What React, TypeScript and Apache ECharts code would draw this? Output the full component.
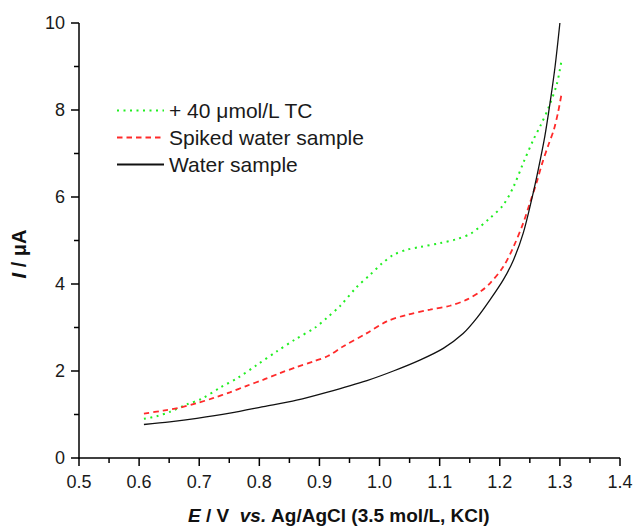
import React, { useEffect, useRef } from "react";
import * as echarts from "echarts";

const seriesNames = ["+ 40 μmol/L TC", "Spiked water sample", "Water sample"];
const xTitle = "{i|E} / V  {i|vs.} Ag/AgCl (3.5 mol/L, KCl)";
const yTitle = "{i|I} / μA";

const xMajorTicks = [0.5, 0.6, 0.7, 0.8, 0.9, 1.0, 1.1, 1.2, 1.3, 1.4];
const xMinorTicks = [0.55, 0.65, 0.75, 0.85, 0.95, 1.05, 1.15, 1.25, 1.35];
const yMajorTicks = [0, 2, 4, 6, 8, 10];
const yMinorTicks = [1, 3, 5, 7, 9];

const tcE = [0.608, 0.629, 0.651, 0.679, 0.704, 0.735, 0.765, 0.796, 0.829, 0.859, 0.893, 0.913, 0.934, 0.962, 0.984, 1.004, 1.023, 1.046, 1.067, 1.101, 1.128, 1.153, 1.184, 1.206, 1.223, 1.239, 1.256, 1.268, 1.281, 1.295, 1.303];
const tcI = [0.9, 0.96, 1.06, 1.23, 1.36, 1.62, 1.85, 2.14, 2.45, 2.72, 3.0, 3.23, 3.49, 3.93, 4.21, 4.47, 4.67, 4.79, 4.85, 4.94, 5.03, 5.17, 5.52, 5.82, 6.24, 6.78, 7.32, 7.65, 8.05, 8.6, 9.16];

const spikedE = [0.608, 0.64, 0.668, 0.696, 0.724, 0.751, 0.779, 0.807, 0.834, 0.862, 0.89, 0.915, 0.94, 0.979, 1.012, 1.045, 1.084, 1.117, 1.145, 1.17, 1.184, 1.206, 1.223, 1.239, 1.25, 1.261, 1.27, 1.281, 1.29, 1.297, 1.303];
const spikedI = [1.02, 1.09, 1.16, 1.26, 1.38, 1.51, 1.66, 1.8, 1.95, 2.09, 2.22, 2.35, 2.57, 2.87, 3.14, 3.29, 3.41, 3.5, 3.64, 3.85, 4.02, 4.4, 4.86, 5.4, 5.86, 6.32, 6.75, 7.2, 7.55, 7.95, 8.39];

const waterE = [0.608, 0.651, 0.696, 0.751, 0.807, 0.862, 0.912, 0.979, 1.023, 1.067, 1.106, 1.139, 1.162, 1.184, 1.206, 1.223, 1.239, 1.253, 1.264, 1.275, 1.284, 1.292, 1.3];
const waterI = [0.77, 0.83, 0.91, 1.03, 1.18, 1.33, 1.51, 1.78, 2.0, 2.25, 2.52, 2.86, 3.22, 3.64, 4.1, 4.56, 5.17, 5.94, 6.63, 7.4, 8.2, 9.0, 10.0];

const FONT = "'Liberation Sans', Arial, sans-serif";

const pairs = (xs: number[], ys: number[]) => xs.map((x, i) => [x, ys[i]]);

export default function App() {
  const ref = useRef<HTMLDivElement>(null);
  useEffect(() => {
    if (!ref.current) return;
    const chart = echarts.init(ref.current, undefined, { renderer: "svg" });
    const titleText = (size: number) => ({
      fill: "#111",
      fontFamily: FONT,
      fontSize: size,
      fontWeight: "bold",
      align: "center",
      verticalAlign: "middle",
      rich: {
        i: { fill: "#111", fontFamily: FONT, fontSize: size, fontWeight: "bold", fontStyle: "italic" },
      },
    });
    chart.setOption({
      animation: false,
      grid: { left: 79, right: 14, top: 23, bottom: 68, containLabel: false, outerBoundsMode: "none" },
      legend: {
        orient: "vertical",
        left: 111,
        top: 95,
        itemWidth: 47,
        itemHeight: 14,
        itemGap: 6,
        data: seriesNames,
        itemStyle: { opacity: 0, borderWidth: 0 },
        textStyle: { fontFamily: FONT, fontSize: 21, color: "#1a1a1a", lineHeight: 21 },
      },
      xAxis: {
        type: "value",
        min: 0.5,
        max: 1.4,
        interval: 0.1,
        axisLine: { show: false },
        axisTick: { show: false },
        splitLine: { show: false },
        axisLabel: {
          fontFamily: FONT,
          fontSize: 18,
          color: "#1a1a1a",
          margin: 15,
          formatter: (v: number) => v.toFixed(1),
        },
      },
      yAxis: {
        type: "value",
        min: 0,
        max: 10,
        interval: 2,
        axisLine: { show: false },
        axisTick: { show: false },
        splitLine: { show: false },
        axisLabel: { fontFamily: FONT, fontSize: 18, color: "#1a1a1a", margin: 14 },
      },
      series: [
        {
          name: seriesNames[0],
          type: "line",
          data: pairs(tcE, tcI),
          showSymbol: false,
          symbol: "none",
          smooth: 0.3,
          lineStyle: { color: "#22ee22", width: 2, type: [2, 4.5] },
          itemStyle: { color: "#22ee22" },
        },
        {
          name: seriesNames[1],
          type: "line",
          data: pairs(spikedE, spikedI),
          showSymbol: false,
          symbol: "none",
          smooth: 0.3,
          lineStyle: { color: "#ff2a2a", width: 1.8, type: [5.5, 4] },
          itemStyle: { color: "#ff2a2a" },
        },
        {
          name: seriesNames[2],
          type: "line",
          data: pairs(waterE, waterI),
          showSymbol: false,
          symbol: "none",
          smooth: 0.3,
          lineStyle: { color: "#111", width: 1.3, type: "solid" },
          itemStyle: { color: "#111" },
        },
      ],
    });

    // Axis frame and ticks, positioned through the chart's own scales.
    const finder = { xAxisIndex: 0, yAxisIndex: 0 };
    const toPx = (x: number, y: number) => chart.convertToPixel(finder, [x, y]) as number[];
    const origin = toPx(0.5, 0);
    const corner = toPx(1.4, 10);
    const graphics: any[] = [
      { type: "text", x: 339, y: 515, style: { text: xTitle, ...titleText(19) } },
      { type: "text", x: 19, y: 254, rotation: Math.PI / 2, style: { text: yTitle, ...titleText(20) } },
    ];
    if (origin && corner) {
      const ox = origin[0];
      const oy = origin[1];
      const stroke = { stroke: "#000", lineWidth: 1.5 };
      const seg = (x1: number, y1: number, x2: number, y2: number) => ({
        type: "line",
        silent: true,
        z: 10,
        shape: { x1, y1, x2, y2 },
        style: stroke,
      });
      graphics.push(seg(ox - 0.75, oy, corner[0], oy));
      graphics.push(seg(ox, oy + 0.75, ox, corner[1]));
      xMajorTicks.forEach((v) => {
        const p = toPx(v, 0);
        graphics.push(seg(p[0], oy, p[0], oy + 8));
      });
      xMinorTicks.forEach((v) => {
        const p = toPx(v, 0);
        graphics.push(seg(p[0], oy, p[0], oy + 5));
      });
      yMajorTicks.forEach((v) => {
        const p = toPx(0.5, v);
        graphics.push(seg(ox, p[1], ox - 8, p[1]));
      });
      yMinorTicks.forEach((v) => {
        const p = toPx(0.5, v);
        graphics.push(seg(ox, p[1], ox - 5, p[1]));
      });
    }
    chart.setOption({ graphic: graphics });
    return () => chart.dispose();
  }, []);
  return (
    <div
      ref={ref}
      style={{ position: "absolute", left: 0, top: 0, width: 634, height: 526, background: "#ffffff" }}
    />
  );
}
